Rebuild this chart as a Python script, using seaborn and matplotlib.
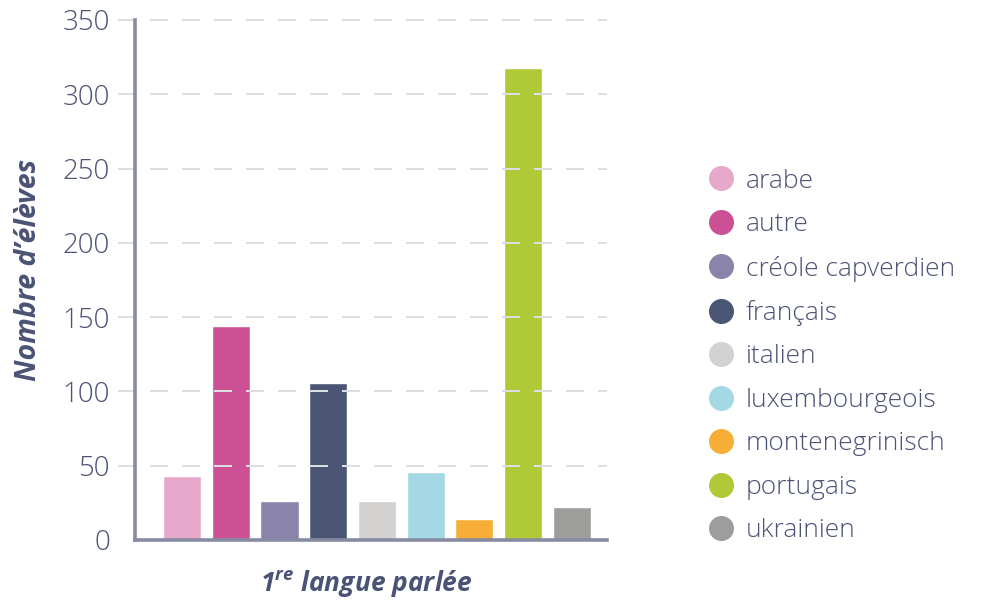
import matplotlib
matplotlib.use("Agg")
import matplotlib.pyplot as plt
from matplotlib.lines import Line2D
import seaborn as sns
import pandas as pd

categories = ["arabe", "autre", "créole capverdien", "français", "italien",
              "luxembourgeois", "montenegrinisch", "portugais", "ukrainien"]
values = [43, 144, 26, 106, 26, 46, 14, 318, 22]
colors = ["#e6a8cb", "#cc5094", "#8a84ab", "#4b5675", "#d3d2d0",
          "#a5d8e5", "#f7ae36", "#afc937", "#9d9d9c"]
yticks = [0, 50, 100, 150, 200, 250, 300, 350]
ylabel = "Nombre d’élèves"
xlabel = "1$^{re}$ langue parlée"

sns.set_theme(style="white")
FONT = "Open Sans"
plt.rcParams["font.family"] = [FONT, "DejaVu Sans"]
plt.rcParams["mathtext.fontset"] = "custom"
plt.rcParams["mathtext.it"] = f"{FONT}:italic:bold"
plt.rcParams["mathtext.rm"] = f"{FONT}:italic:bold"
plt.rcParams["mathtext.default"] = "it"

TEXT = "#4a5275"
SPINE = "#868ba1"
GRID = "#dcdee5"

df = pd.DataFrame({"langue": categories, "n": values})

fig = plt.figure(figsize=(9.87, 6.01), dpi=100)
ax = fig.add_axes([135 / 987, 61 / 601, 472 / 987, 520 / 601])

sns.barplot(data=df, x="langue", y="n", hue="langue", order=categories,
            hue_order=categories, palette=colors, width=0.78, saturation=1,
            legend=False, ax=ax, zorder=2)

ax.set_ylim(0, 350)
ax.set_xlim(-0.965, 8.72)
ax.set_yticks(yticks)
ax.set_xticks([])

for t in yticks[1:]:
    ax.axhline(t, xmin=-17 / 472, xmax=1, color=GRID, lw=1.44,
               dashes=(9, 7), clip_on=False, zorder=3)

for s in ["top", "right"]:
    ax.spines[s].set_visible(False)
for s in ["left", "bottom"]:
    ax.spines[s].set_color(SPINE)
    ax.spines[s].set_linewidth(2.6)
    ax.spines[s].set_zorder(4)

ax.tick_params(axis="y", length=0, pad=18, labelsize=20, labelcolor=TEXT)
for lab in ax.get_yticklabels():
    lab.set_fontweight("light")

ax.set_ylabel(ylabel, fontsize=20.5, fontweight="bold", fontstyle="italic",
              color=TEXT, labelpad=0)
ax.yaxis.set_label_coords(-92 / 472, 0.52)
ax.set_xlabel(xlabel, fontsize=19, fontweight="bold", fontstyle="italic",
              color=TEXT)
ax.xaxis.set_label_coords(0.49, -28 / 520)

handles = [Line2D([0], [0], marker="o", linestyle="", markersize=17,
                  markerfacecolor=c, markeredgecolor=c) for c in colors]
leg = fig.legend(handles, categories, loc="center left",
                 bbox_to_anchor=(697 / 987, 1 - 356 / 601), frameon=False,
                 fontsize=19, labelspacing=0.7, handletextpad=0.45,
                 handlelength=1.0, borderaxespad=0)
for t in leg.get_texts():
    t.set_color(TEXT)
    t.set_fontweight("light")

fig.savefig("out.png", dpi=100)
